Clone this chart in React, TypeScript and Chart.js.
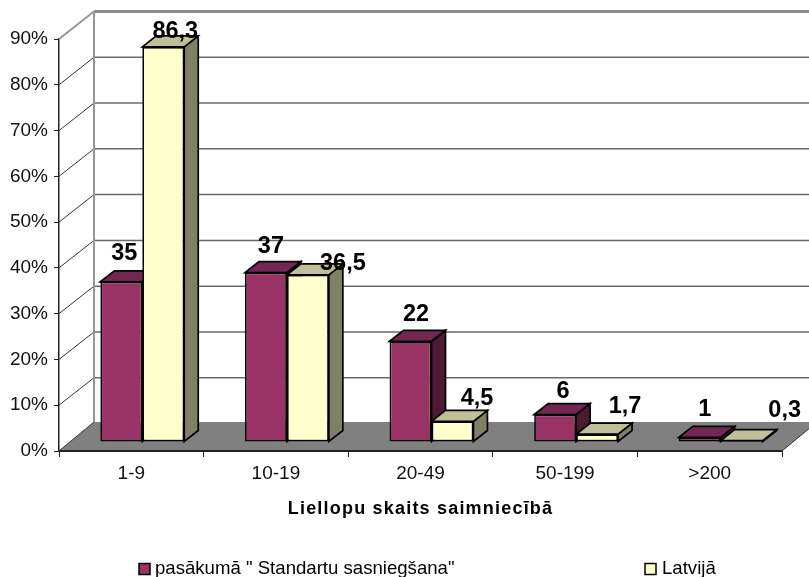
import React, { useEffect, useRef } from "react";
import { Chart, registerables } from "chart.js";

Chart.register(...registerables);

const categories = ["1-9", "10-19", "20-49", "50-199", ">200"];
const seriesNames = ['pasākumā " Standartu sasniegšana"', "Latvijā"];
const measureValues = [35, 37, 22, 6, 1];
const latviaValues = [86.3, 36.5, 4.5, 1.7, 0.3];
const axisTitle = "Liellopu skaits saimniecībā";

const FONT = '"Liberation Sans", Arial, sans-serif';
const INK = "#000000";
const wallDepth = { x: 35, y: 27.5 };
const floorDepth = 29;
const barShift = { x: 11, y: 9 };
const barDepth = { x: 14, y: 11 };
const labelNudges = [
  [[3, -30], [5, -28], [5.5, -29], [8, -25], [5, -30]],
  [[12, -17], [35, -13], [24.5, -25], [28, -30], [43, -32]],
];
const faces = [
  { front: "#993366", top: "#732650", side: "#4d1a33" },
  { front: "#ffffcc", top: "#bfbf99", side: "#808066" },
];
const legendSlots = [
  { box: 139, text: 155 },
  { box: 645, text: 662 },
];

function poly(ctx: CanvasRenderingContext2D, pts: number[][], fill: string | null, stroke: string | null, lw = 1) {
  ctx.beginPath();
  pts.forEach((p, i) => (i ? ctx.lineTo(p[0], p[1]) : ctx.moveTo(p[0], p[1])));
  if (fill) {
    ctx.closePath();
    ctx.fillStyle = fill;
    ctx.fill();
  }
  if (stroke) {
    ctx.strokeStyle = stroke;
    ctx.lineWidth = lw;
    ctx.stroke();
  }
}

const depthPlugin = {
  id: "depth",
  afterLayout(chart: any) {
    const s = chart.scales.x;
    const base = s.drawTitle;
    s.drawTitle = function () {
      chart.ctx.save();
      chart.ctx.letterSpacing = "1.2px";
      base.call(s);
      chart.ctx.restore();
    };
  },
  beforeDatasetsDraw(chart: any) {
    const { ctx, chartArea: a, scales } = chart;
    const y = scales.y;
    const dx = wallDepth.x;
    const dy = wallDepth.y;
    const fd = floorDepth;
    ctx.save();
    // wall grid
    y.ticks.forEach((t: any) => {
      if (t.value === 0) return;
      const py = y.getPixelForValue(t.value);
      const top = t.value === y.max;
      poly(ctx, [[a.left, py], [a.left + dx, py - dy]], null, top ? "#969696" : "#333333", top ? 2 : 1);
      poly(ctx, [[a.left + dx, py - dy], [a.right + dx, py - dy]], null, top ? "#8c8c8c" : "#6a6a6a", top ? 3 : 1.5);
    });
    poly(ctx, [[a.left + dx, a.top - dy], [a.left + dx, a.bottom - fd]], null, "#969696", 2);
    // floor
    poly(ctx, [[a.left, a.bottom], [a.left + dx, a.bottom - fd], [a.right + dx, a.bottom - fd], [a.right, a.bottom]], "#808080", null);
    poly(ctx, [[a.left, a.bottom], [a.left + dx, a.bottom - fd]], null, "#333333", 1);
    poly(ctx, [[a.right, a.bottom], [a.right + dx, a.bottom - fd]], null, "#333333", 1);
    poly(ctx, [[a.left, a.bottom], [a.right, a.bottom]], null, "#222222", 2);
    ctx.restore();

    // bars are drawn mid-depth: shift everything the library paints
    ctx.save();
    ctx.translate(barShift.x, -barShift.y);
    chart.data.datasets.forEach((_: any, d: number) => {
      chart.getDatasetMeta(d).data.forEach((b: any) => {
        const l = b.x - b.width / 2;
        const r = b.x + b.width / 2;
        const t = Math.min(b.y, b.base);
        const u = b.base;
        const ox = barDepth.x;
        const oy = barDepth.y;
        poly(ctx, [[r, t], [r + ox, t - oy], [r + ox, u - oy], [r, u]], faces[d].side, INK, 1.7);
        poly(ctx, [[l, t], [l + ox, t - oy], [r + ox, t - oy], [r, t]], faces[d].top, INK, 1.7);
      });
    });
  },
  afterDatasetsDraw(chart: any) {
    const { ctx } = chart;
    ctx.restore();
    // value labels
    ctx.save();
    ctx.font = `bold 23.5px ${FONT}`;
    ctx.fillStyle = INK;
    ctx.textAlign = "center";
    ctx.textBaseline = "middle";
    chart.data.datasets.forEach((ds: any, d: number) => {
      chart.getDatasetMeta(d).data.forEach((b: any, i: number) => {
        const n = labelNudges[d][i];
        ctx.fillText(
          String(ds.data[i]).replace(".", ","),
          b.x + barShift.x + n[0],
          b.y - barShift.y + n[1] + 2
        );
      });
    });
    ctx.restore();
  },
  afterDraw(chart: any) {
    const { ctx } = chart;
    ctx.save();
    ctx.font = `18.6px ${FONT}`;
    ctx.textAlign = "left";
    ctx.textBaseline = "middle";
    chart.data.datasets.forEach((ds: any, d: number) => {
      ctx.fillStyle = ds.backgroundColor;
      ctx.strokeStyle = INK;
      ctx.lineWidth = 1.5;
      ctx.fillRect(legendSlots[d].box, 563.5, 11, 11);
      ctx.strokeRect(legendSlots[d].box, 563.5, 11, 11);
      ctx.fillStyle = INK;
      ctx.fillText(ds.label, legendSlots[d].text, 569);
    });
    ctx.restore();
  },
};

export default function App() {
  const ref = useRef<HTMLCanvasElement>(null);
  useEffect(() => {
    const chart = new Chart(ref.current as HTMLCanvasElement, {
      type: "bar",
      data: {
        labels: categories,
        datasets: [
          {
            label: seriesNames[0],
            data: measureValues,
            backgroundColor: faces[0].front,
            borderColor: INK,
            borderWidth: 1.7,
            borderSkipped: false,
            clip: false,
          },
          {
            label: seriesNames[1],
            data: latviaValues,
            backgroundColor: faces[1].front,
            borderColor: INK,
            borderWidth: 1.7,
            borderSkipped: false,
            clip: false,
          },
        ],
      },
      options: {
        responsive: false,
        animation: false,
        layout: { padding: { left: 0, top: 39, right: 27, bottom: 0 } },
        datasets: { bar: { categoryPercentage: 0.58, barPercentage: 1 } },
        plugins: { legend: { display: false }, tooltip: { enabled: false } },
        scales: {
          x: {
            afterFit: (s: any) => {
              s.height = 126;
            },
            grid: { drawOnChartArea: false, tickLength: 6, color: "#222222", offset: true },
            border: { display: true, color: "#222222" },
            ticks: { color: "#111111", font: { family: FONT, size: 19 }, padding: 5, maxRotation: 0 },
            title: {
              display: true,
              text: axisTitle,
              color: INK,
              font: { family: FONT, size: 18, weight: "bold" },
              padding: { top: 0, bottom: 57 },
            },
          },
          y: {
            min: 0,
            max: 90,
            afterFit: (s: any) => {
              s.width = 59;
            },
            grid: { drawOnChartArea: false, tickLength: 5, color: "#222222" },
            border: { display: true, color: "#222222", width: 1.5 },
            ticks: {
              stepSize: 10,
              color: "#111111",
              font: { family: FONT, size: 19 },
              padding: 6,
              callback: (v: any) => `${v}%`,
            },
          },
        },
      },
      plugins: [depthPlugin],
    } as any);
    return () => chart.destroy();
  }, []);
  return (
    <div style={{ position: "absolute", left: 0, top: 0, width: 809, height: 577, background: "#fff" }}>
      <canvas ref={ref} width={809} height={577} style={{ display: "block" }} />
    </div>
  );
}
